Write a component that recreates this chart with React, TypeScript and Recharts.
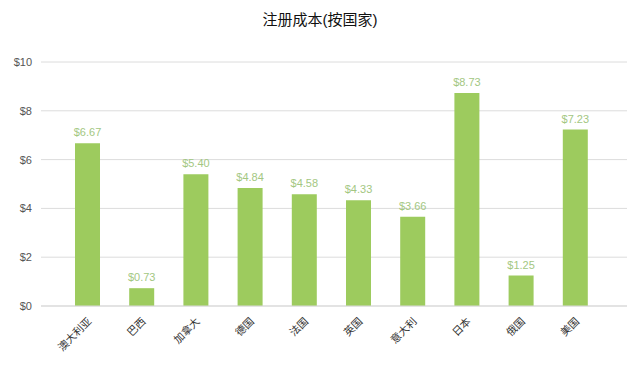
import React from 'react';
import { BarChart, Bar, XAxis, YAxis, CartesianGrid, LabelList } from 'recharts';

const countries = ['澳大利亚', '巴西', '加拿大', '德国', '法国', '英国', '意大利', '日本', '俄国', '美国'];
const costs = [6.67, 0.73, 5.4, 4.84, 4.58, 4.33, 3.66, 8.73, 1.25, 7.23];
const yTicks = [0, 2, 4, 6, 8, 10];

const data = countries.map((country, i) => ({ country, cost: costs[i] }));

const FONT = '"Liberation Sans", Arial, "Noto Sans CJK SC", sans-serif';

const CountryTick = (props: any) => {
  const { x, y, payload } = props;
  return (
    <g transform={`translate(${x + 5},${y + 8})`}>
      <text textAnchor="end" transform="rotate(-45)" fontSize={10.5} fill="#333" fontFamily={FONT}>
        {payload.value}
      </text>
    </g>
  );
};

const DollarTick = (props: any) => {
  const { x, y, payload } = props;
  return (
    <text x={x - 1} y={y} dy={4} textAnchor="end" fontSize={11} fill="#555" fontFamily={FONT}>
      {`$${payload.value}`}
    </text>
  );
};

const App: React.FC = () => {
  return (
    <div style={{ position: 'absolute', left: 0, top: 0, width: 640, height: 366, background: '#fff', fontFamily: FONT }}>
      <div style={{ position: 'absolute', top: 8, width: 640, textAlign: 'center', fontSize: 15, fontWeight: 'normal', color: '#111' }}>
        注册成本(按国家)
      </div>
      <BarChart width={640} height={366} data={data} margin={{ top: 62, right: 13, bottom: 0, left: 0 }}>
        <CartesianGrid vertical={false} stroke="#dcdcdc" />
        <XAxis
          dataKey="country"
          tick={<CountryTick />}
          tickLine={false}
          axisLine={{ stroke: '#d9d9d9' }}
          interval={0}
          height={60}
          padding={{ left: 19, right: 25 }}
        />
        <YAxis
          width={41}
          domain={[0, 10]}
          ticks={yTicks}
          tickLine={false}
          axisLine={false}
          tick={<DollarTick />}
        />
        <Bar dataKey="cost" fill="#9dcb5e" barSize={25} isAnimationActive={false}>
          <LabelList
            dataKey="cost"
            position="top"
            offset={7}
            formatter={(v: any) => `$${Number(v).toFixed(2)}`}
            style={{ fontSize: 11, fill: '#a3c782', fontFamily: FONT }}
          />
        </Bar>
      </BarChart>
    </div>
  );
};

export default App;
